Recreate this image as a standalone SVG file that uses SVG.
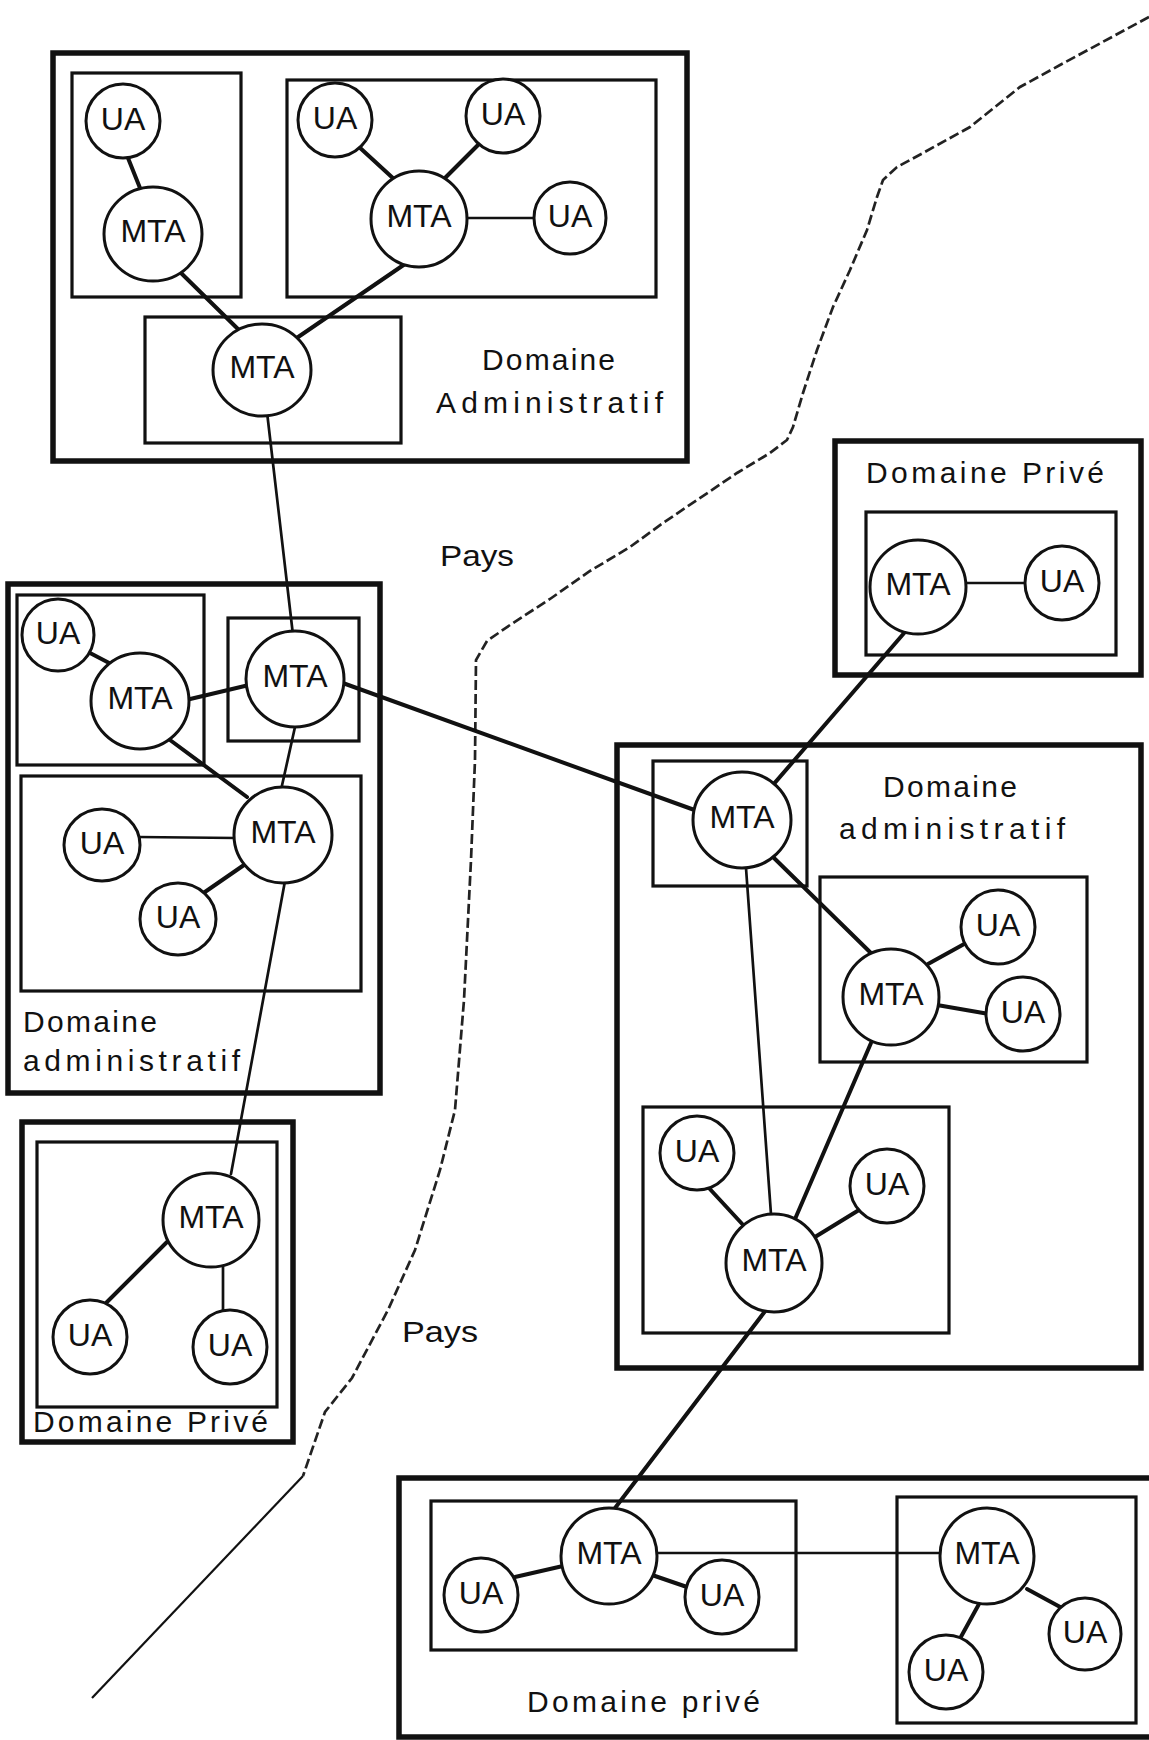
<svg xmlns="http://www.w3.org/2000/svg" width="1149" height="1740" viewBox="0 0 1149 1740">
  <style>
    .outer { fill: none; stroke: #111; stroke-width: 5.5; }
    .inner { fill: none; stroke: #111; stroke-width: 3.2; }
    .node { fill: #fff; stroke: #111; stroke-width: 3; }
    .lbl { font-family: "Liberation Sans", Arial, sans-serif; font-size: 32px; fill: #111; text-anchor: middle; }
    .dom { font-family: "Liberation Sans", Arial, sans-serif; font-size: 30px; fill: #111; }
    .thick { stroke: #111; stroke-width: 4; fill: none; stroke-linecap: round; }
    .thin { stroke: #111; stroke-width: 2.7; fill: none; stroke-linecap: round; }
    .border { stroke: #222; stroke-width: 2.7; fill: none; stroke-dasharray: 10 4; }
  </style>
  <rect width="1149" height="1740" fill="#fff"/>

  <!-- country border -->
  <g id="frontiere">
    <path class="border" d="M1149,17 L1060,65 L1020,87 L970,127 L923,153 L897,167 L883,180 L877,197 L867,230 L850,270 L833,307 L817,350 L803,393 L793,427 L787,440 L770,453 L737,473 L697,500 L663,523 L630,547 L590,571 L550,599 L510,625 L487,641 L476,660 L475,760 L471,860 L464,1000 L455,1110 L440,1170 L415,1250 L388,1310 L352,1378 L325,1412 L303,1476"/>
    <path d="M303,1476 L92,1698" stroke="#111" stroke-width="2.2" fill="none"/>
    <text class="dom" x="440" y="566" textLength="74" lengthAdjust="spacingAndGlyphs">Pays</text>
    <text class="dom" x="402" y="1342" textLength="76" lengthAdjust="spacingAndGlyphs">Pays</text>
  </g>

  <!-- domain boxes -->
  <g id="domaine-admin-haut">
    <rect class="outer" x="53" y="53" width="634" height="408"/>
    <rect class="inner" x="72" y="73" width="169" height="224"/>
    <rect class="inner" x="287" y="80" width="369" height="217"/>
    <rect class="inner" x="145" y="317" width="256" height="126"/>
    <text class="dom" x="482" y="370" textLength="133" lengthAdjust="spacing">Domaine</text>
    <text class="dom" x="436" y="413" textLength="227" lengthAdjust="spacing">Administratif</text>
  </g>
  <g id="domaine-admin-gauche">
    <rect class="outer" x="8" y="584" width="372" height="509"/>
    <rect class="inner" x="17" y="595" width="187" height="170"/>
    <rect class="inner" x="228" y="618" width="131" height="123"/>
    <rect class="inner" x="21" y="776" width="340" height="215"/>
    <text class="dom" x="23" y="1032" textLength="134" lengthAdjust="spacing">Domaine</text>
    <text class="dom" x="23" y="1071" textLength="217" lengthAdjust="spacing">administratif</text>
  </g>
  <g id="domaine-prive-gauche">
    <rect class="outer" x="22" y="1122" width="271" height="320"/>
    <rect class="inner" x="37" y="1142" width="240" height="265"/>
    <text class="dom" x="33" y="1432" textLength="235" lengthAdjust="spacing">Domaine  Privé</text>
  </g>
  <g id="domaine-prive-droite">
    <rect class="outer" x="835" y="441" width="306" height="234"/>
    <rect class="inner" x="866" y="512" width="250" height="143"/>
    <text class="dom" x="866" y="483" textLength="238" lengthAdjust="spacing">Domaine  Privé</text>
  </g>
  <g id="domaine-admin-droite">
    <rect class="outer" x="617" y="745" width="524" height="623"/>
    <rect class="inner" x="653" y="761" width="154" height="125"/>
    <rect class="inner" x="820" y="877" width="267" height="185"/>
    <rect class="inner" x="643" y="1107" width="306" height="226"/>
    <text class="dom" x="883" y="797" textLength="134" lengthAdjust="spacing">Domaine</text>
    <text class="dom" x="839" y="839" textLength="226" lengthAdjust="spacing">administratif</text>
  </g>
  <g id="domaine-prive-bas">
    <rect class="outer" x="399" y="1478" width="760" height="259"/>
    <rect class="inner" x="431" y="1501" width="365" height="149"/>
    <rect class="inner" x="897" y="1497" width="239" height="226"/>
    <text class="dom" x="527" y="1712" textLength="233" lengthAdjust="spacing">Domaine  privé</text>
  </g>

  <!-- links between agents -->
  <g id="connecteurs">
    <line class="thick" x1="128" y1="158" x2="140" y2="188"/>
    <line class="thick" x1="358" y1="146" x2="395" y2="180"/>
    <line class="thick" x1="478" y1="145" x2="444" y2="179"/>
    <line class="thin" x1="465" y1="218" x2="535" y2="218"/>
    <line class="thick" x1="180" y1="272" x2="242" y2="333"/>
    <line class="thick" x1="405" y1="264" x2="285" y2="346"/>
    <line class="thin" x1="267" y1="412" x2="293" y2="635"/>

    <line class="thick" x1="90" y1="653" x2="113" y2="665"/>
    <line class="thick" x1="186" y1="700" x2="249" y2="685"/>
    <line class="thick" x1="170" y1="740" x2="247" y2="797"/>
    <line class="thin" x1="295" y1="727" x2="281" y2="790"/>
    <line class="thin" x1="138" y1="837" x2="236" y2="838"/>
    <line class="thick" x1="202" y1="894" x2="244" y2="865"/>
    <line class="thick" x1="340" y1="682" x2="700" y2="812"/>
    <line class="thin" x1="285" y1="881" x2="231" y2="1174"/>

    <line class="thick" x1="167" y1="1242" x2="104" y2="1305"/>
    <line class="thin" x1="223" y1="1266" x2="223" y2="1313"/>

    <line class="thin" x1="963" y1="583" x2="1027" y2="583"/>
    <line class="thick" x1="905" y1="632" x2="760" y2="800"/>

    <line class="thick" x1="774" y1="858" x2="874" y2="956"/>
    <line class="thick" x1="928" y1="964" x2="966" y2="943"/>
    <line class="thick" x1="937" y1="1005" x2="989" y2="1014"/>
    <line class="thin" x1="746" y1="868" x2="773" y2="1242"/>
    <line class="thick" x1="871" y1="1043" x2="792" y2="1226"/>
    <line class="thick" x1="708" y1="1187" x2="745" y2="1227"/>
    <line class="thick" x1="859" y1="1210" x2="815" y2="1237"/>
    <line class="thick" x1="766" y1="1310" x2="612" y2="1512"/>

    <line class="thick" x1="563" y1="1566" x2="515" y2="1577"/>
    <line class="thick" x1="652" y1="1575" x2="687" y2="1587"/>
    <line class="thin" x1="655" y1="1553" x2="942" y2="1553"/>
    <line class="thick" x1="1027" y1="1589" x2="1062" y2="1608"/>
    <line class="thick" x1="979" y1="1604" x2="957" y2="1644"/>
  </g>

  <!-- agents: A = top administrative domain -->
  <g id="ua-a1"><circle class="node" cx="123" cy="121" r="37"/><text class="lbl" x="123" y="130">UA</text></g>
  <g id="mta-a2"><ellipse class="node" cx="153" cy="234" rx="49" ry="47"/><text class="lbl" x="153" y="242">MTA</text></g>
  <g id="ua-a3"><circle class="node" cx="335" cy="120" r="37"/><text class="lbl" x="335" y="129">UA</text></g>
  <g id="ua-a4"><circle class="node" cx="503" cy="116" r="37"/><text class="lbl" x="503" y="125">UA</text></g>
  <g id="mta-a5"><ellipse class="node" cx="419" cy="219" rx="48" ry="48"/><text class="lbl" x="419" y="227">MTA</text></g>
  <g id="ua-a6"><circle class="node" cx="570" cy="218" r="36"/><text class="lbl" x="570" y="227">UA</text></g>
  <g id="mta-a7"><ellipse class="node" cx="262" cy="370" rx="49" ry="46"/><text class="lbl" x="262" y="378">MTA</text></g>

  <!-- B = left administrative domain -->
  <g id="ua-b1"><circle class="node" cx="58" cy="635" r="36"/><text class="lbl" x="58" y="644">UA</text></g>
  <g id="mta-b2"><ellipse class="node" cx="140" cy="701" rx="49" ry="48"/><text class="lbl" x="140" y="709">MTA</text></g>
  <g id="mta-b3"><ellipse class="node" cx="295" cy="679" rx="49" ry="48"/><text class="lbl" x="295" y="687">MTA</text></g>
  <g id="mta-b4"><ellipse class="node" cx="283" cy="835" rx="49" ry="48"/><text class="lbl" x="283" y="843">MTA</text></g>
  <g id="ua-b5"><ellipse class="node" cx="102" cy="845" rx="38" ry="36"/><text class="lbl" x="102" y="854">UA</text></g>
  <g id="ua-b6"><ellipse class="node" cx="178" cy="919" rx="38" ry="36"/><text class="lbl" x="178" y="928">UA</text></g>

  <!-- C = left private domain -->
  <g id="mta-c1"><ellipse class="node" cx="211" cy="1220" rx="48" ry="47"/><text class="lbl" x="211" y="1228">MTA</text></g>
  <g id="ua-c2"><circle class="node" cx="90" cy="1337" r="37"/><text class="lbl" x="90" y="1346">UA</text></g>
  <g id="ua-c3"><circle class="node" cx="230" cy="1347" r="37"/><text class="lbl" x="230" y="1356">UA</text></g>

  <!-- D = right private domain -->
  <g id="mta-d1"><ellipse class="node" cx="918" cy="587" rx="48" ry="47"/><text class="lbl" x="918" y="595">MTA</text></g>
  <g id="ua-d2"><circle class="node" cx="1062" cy="583" r="37"/><text class="lbl" x="1062" y="592">UA</text></g>

  <!-- E = right administrative domain -->
  <g id="mta-e1"><ellipse class="node" cx="742" cy="820" rx="49" ry="48"/><text class="lbl" x="742" y="828">MTA</text></g>
  <g id="mta-e2"><ellipse class="node" cx="891" cy="997" rx="48" ry="48"/><text class="lbl" x="891" y="1005">MTA</text></g>
  <g id="ua-e3"><circle class="node" cx="998" cy="927" r="37"/><text class="lbl" x="998" y="936">UA</text></g>
  <g id="ua-e4"><circle class="node" cx="1023" cy="1014" r="37"/><text class="lbl" x="1023" y="1023">UA</text></g>
  <g id="ua-e5"><circle class="node" cx="697" cy="1153" r="37"/><text class="lbl" x="697" y="1162">UA</text></g>
  <g id="ua-e6"><circle class="node" cx="887" cy="1186" r="37"/><text class="lbl" x="887" y="1195">UA</text></g>
  <g id="mta-e7"><ellipse class="node" cx="774" cy="1263" rx="48" ry="49"/><text class="lbl" x="774" y="1271">MTA</text></g>

  <!-- F = bottom private domain -->
  <g id="mta-f1"><ellipse class="node" cx="609" cy="1556" rx="48" ry="48"/><text class="lbl" x="609" y="1564">MTA</text></g>
  <g id="ua-f2"><circle class="node" cx="481" cy="1595" r="37"/><text class="lbl" x="481" y="1604">UA</text></g>
  <g id="ua-f3"><circle class="node" cx="722" cy="1597" r="37"/><text class="lbl" x="722" y="1606">UA</text></g>
  <g id="mta-f4"><ellipse class="node" cx="987" cy="1556" rx="47" ry="48"/><text class="lbl" x="987" y="1564">MTA</text></g>
  <g id="ua-f5"><circle class="node" cx="1085" cy="1634" r="36"/><text class="lbl" x="1085" y="1643">UA</text></g>
  <g id="ua-f6"><circle class="node" cx="946" cy="1672" r="37"/><text class="lbl" x="946" y="1681">UA</text></g>
</svg>
